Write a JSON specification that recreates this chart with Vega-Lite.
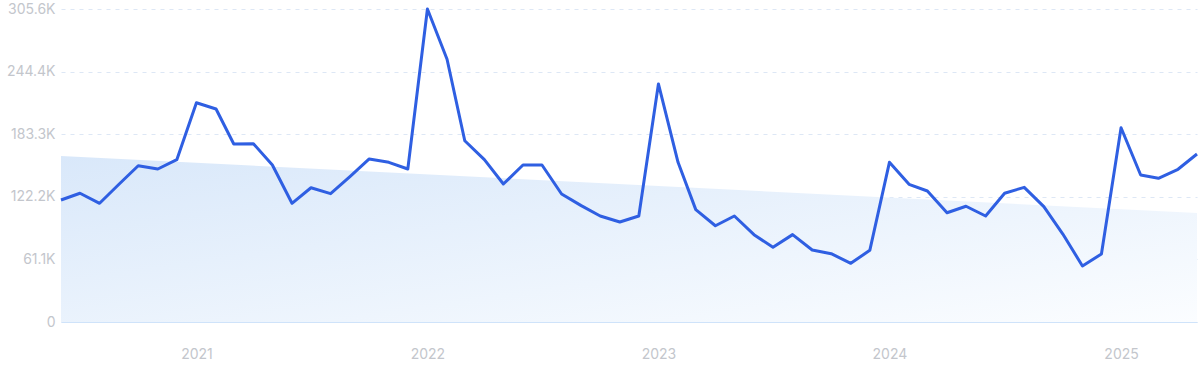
{
  "$schema": "https://vega.github.io/schema/vega-lite/v6.json",
  "width": 1136,
  "height": 313,
  "autosize": {"type": "none"},
  "padding": {"left": 61, "top": 9, "right": 3, "bottom": 49},
  "background": "#ffffff",
  "config": {
    "view": {"stroke": null},
    "axis": {"labelFont": "Inter", "labelFontSize": 13, "labelColor": "#c3c6cc", "title": null, "ticks": false}
  },
  "datasets": {
    "series": [
      {"date": "2020-06-01", "value": 119100},
      {"date": "2020-07-01", "value": 125700},
      {"date": "2020-08-01", "value": 115900},
      {"date": "2020-09-01", "value": 134700},
      {"date": "2020-10-01", "value": 152600},
      {"date": "2020-11-01", "value": 149400},
      {"date": "2020-12-01", "value": 158500},
      {"date": "2021-01-01", "value": 214100},
      {"date": "2021-02-01", "value": 208000},
      {"date": "2021-03-01", "value": 173800},
      {"date": "2021-04-01", "value": 174100},
      {"date": "2021-05-01", "value": 153300},
      {"date": "2021-06-01", "value": 115900},
      {"date": "2021-07-01", "value": 131100},
      {"date": "2021-08-01", "value": 125300},
      {"date": "2021-09-01", "value": 142200},
      {"date": "2021-10-01", "value": 159200},
      {"date": "2021-11-01", "value": 155900},
      {"date": "2021-12-01", "value": 149400},
      {"date": "2022-01-01", "value": 305600},
      {"date": "2022-02-01", "value": 256500},
      {"date": "2022-03-01", "value": 177000},
      {"date": "2022-04-01", "value": 158500},
      {"date": "2022-05-01", "value": 134700},
      {"date": "2022-06-01", "value": 153300},
      {"date": "2022-07-01", "value": 153300},
      {"date": "2022-08-01", "value": 125000},
      {"date": "2022-09-01", "value": 113600},
      {"date": "2022-10-01", "value": 103500},
      {"date": "2022-11-01", "value": 97600},
      {"date": "2022-12-01", "value": 103500},
      {"date": "2023-01-01", "value": 232400},
      {"date": "2023-02-01", "value": 155900},
      {"date": "2023-03-01", "value": 109700},
      {"date": "2023-04-01", "value": 94000},
      {"date": "2023-05-01", "value": 103500},
      {"date": "2023-06-01", "value": 85300},
      {"date": "2023-07-01", "value": 72900},
      {"date": "2023-08-01", "value": 85300},
      {"date": "2023-09-01", "value": 70300},
      {"date": "2023-10-01", "value": 66700},
      {"date": "2023-11-01", "value": 57300},
      {"date": "2023-12-01", "value": 70000},
      {"date": "2024-01-01", "value": 155900},
      {"date": "2024-02-01", "value": 134400},
      {"date": "2024-03-01", "value": 127900},
      {"date": "2024-04-01", "value": 106700},
      {"date": "2024-05-01", "value": 113000},
      {"date": "2024-06-01", "value": 103500},
      {"date": "2024-07-01", "value": 125700},
      {"date": "2024-08-01", "value": 131500},
      {"date": "2024-09-01", "value": 112600},
      {"date": "2024-10-01", "value": 85900},
      {"date": "2024-11-01", "value": 54700},
      {"date": "2024-12-01", "value": 66400},
      {"date": "2025-01-01", "value": 189700},
      {"date": "2025-02-01", "value": 143500},
      {"date": "2025-03-01", "value": 140300},
      {"date": "2025-04-01", "value": 149100},
      {"date": "2025-05-01", "value": 164000}
    ],
    "trend": [
      {"date": "2020-06-01", "value": 162100},
      {"date": "2025-05-01", "value": 106400}
    ]
  },
  "encoding": {
    "x": {
      "field": "date",
      "type": "temporal",
      "scale": {
        "type": "utc",
        "domain": [
          {"year": 2020, "month": 6, "date": 1, "utc": true},
          {"year": 2025, "month": 5, "date": 1, "utc": true}
        ]
      },
      "axis": {
        "values": [
          {"year": 2021, "month": 1, "date": 1, "utc": true},
          {"year": 2022, "month": 1, "date": 1, "utc": true},
          {"year": 2023, "month": 1, "date": 1, "utc": true},
          {"year": 2024, "month": 1, "date": 1, "utc": true},
          {"year": 2025, "month": 1, "date": 1, "utc": true}
        ],
        "format": "%Y",
        "grid": false,
        "domain": true,
        "domainColor": "#cfe3fa",
        "domainWidth": 1,
        "labelPadding": 25,
        "labelFontSize": 14
      }
    },
    "y": {
      "field": "value",
      "type": "quantitative",
      "scale": {"domain": [0, 305600], "nice": false, "zero": true},
      "axis": {
        "values": [0, 61100, 122200, 183300, 244400, 305600],
        "labelExpr": "datum.value == 0 ? '0' : format(datum.value / 1000, '.1f') + 'K'",
        "grid": true,
        "gridColor": "#dde7f5",
        "gridDash": [4, 5],
        "gridWidth": 1,
        "domain": false,
        "labelPadding": 6,
        "labelFontSize": 14
      }
    }
  },
  "layer": [
    {
      "data": {"name": "trend"},
      "mark": {
        "type": "area",
        "fill": {
          "gradient": "linear",
          "x1": 0, "y1": 0, "x2": 1, "y2": 1,
          "stops": [
            {"offset": 0, "color": "#d9e8fa"},
            {"offset": 1, "color": "#fbfdff"}
          ]
        },
        "stroke": null
      },
      "encoding": {}
    },
    {
      "data": {"name": "series"},
      "mark": {"type": "line", "color": "#2f5fe2", "strokeWidth": 3, "strokeJoin": "round"},
      "encoding": {}
    }
  ]
}
